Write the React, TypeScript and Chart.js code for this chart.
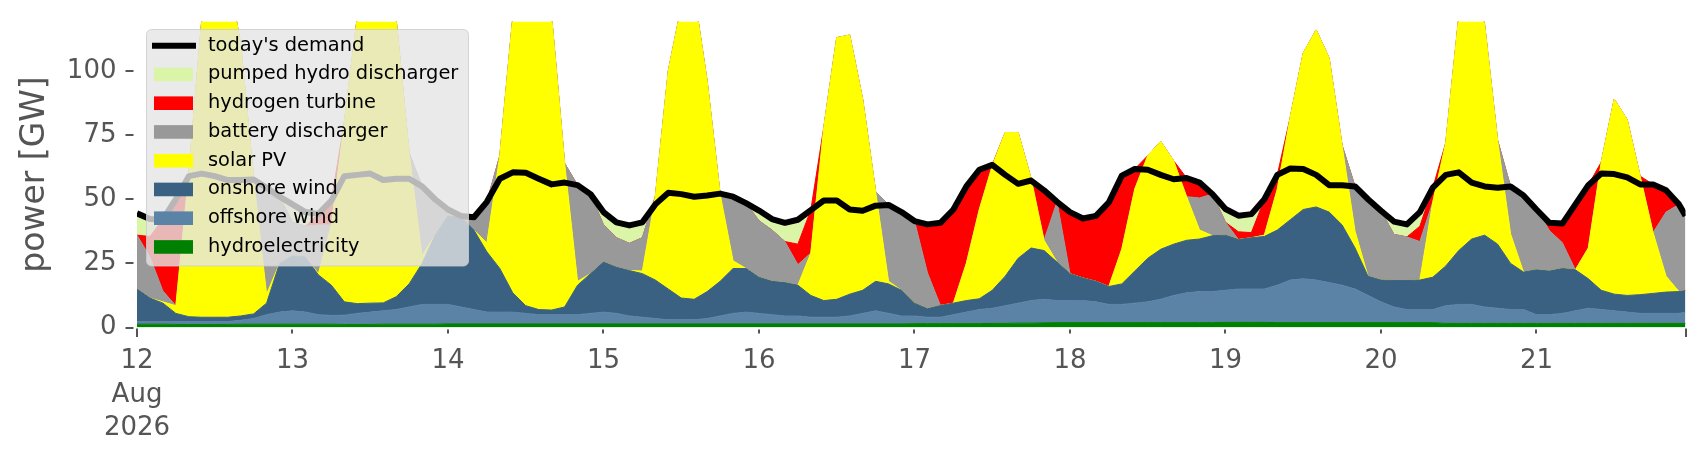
import { useEffect, useRef } from 'react';
import { Chart, registerables } from 'chart.js';

Chart.register(...registerables);

// time axis: hours since 12 Aug 2026 00:00, sampled every 2 h
const hours = [...Array.from({ length: 120 }, (_, i) => i * 2), 239];

const dayTicks = [0, 24, 48, 72, 96, 120, 144, 168, 192, 216];
const dayLabels: (string | string[])[] = [['12', 'Aug', '2026'], '13', '14', '15', '16', '17', '18', '19', '20', '21'];
const yTicks = [0, 25, 50, 75, 100];

// GW, one row per day
const demand = [
  44.5, 42.3, 42.2, 50, 59, 60, 59, 57.5, 57.5, 57.7, 54.5, 51,
  48, 45, 44.3, 49.5, 59, 59.5, 60, 57.5, 58, 58, 55, 50,
  46, 43.5, 43, 49, 58, 60.5, 60.3, 58, 55.8, 56.5, 55.5, 52,
  45, 41, 39.8, 41, 48, 52.5, 52, 51, 51.5, 52.2, 51, 48.5,
  45.6, 42.3, 40.8, 42, 45.8, 49.5, 49.5, 46, 45.5, 47.5, 47.8, 45,
  41.5, 40.2, 40.8, 46, 55, 61.5, 63.4, 59.5, 56, 57.3, 53.5, 49,
  45, 42.5, 43.5, 48.8, 59.2, 61.8, 61.5, 59.5, 57.8, 58.3, 56.5, 52,
  46.2, 43.6, 44.2, 50, 59.5, 62, 61.8, 59.5, 55.5, 55.5, 55, 50,
  45.5, 41.3, 40.2, 45, 54.5, 59.5, 60.5, 56.5, 55, 54.5, 55, 51.5,
  46, 40.8, 40.5, 48, 55.5, 60, 59.8, 58.5, 55.8, 55.8, 53.5, 48,
  43.6,
];

const hydro = [
  1.3, 1.3, 1.3, 1.2, 1.2, 1.2, 1.2, 1.2, 1.3, 1.3, 1.3, 1.3,
  1.3, 1.3, 1.3, 1.3, 1.2, 1.2, 1.2, 1.3, 1.3, 1.3, 1.3, 1.3,
  1.4, 1.4, 1.4, 1.4, 1.4, 1.4, 1.4, 1.4, 1.4, 1.4, 1.4, 1.4,
  1.4, 1.4, 1.4, 1.4, 1.4, 1.4, 1.4, 1.4, 1.4, 1.4, 1.4, 1.4,
  1.4, 1.4, 1.4, 1.4, 1.4, 1.4, 1.4, 1.4, 1.4, 1.4, 1.4, 1.4,
  1.5, 1.5, 1.5, 1.5, 1.5, 1.5, 1.6, 1.6, 1.7, 1.7, 1.8, 1.9,
  1.9, 1.9, 1.9, 1.9, 1.9, 1.9, 1.9, 1.9, 1.9, 1.9, 1.9, 1.9,
  2, 2, 2, 2, 1.9, 1.9, 1.9, 1.9, 1.9, 1.9, 1.9, 1.9,
  1.9, 1.9, 1.9, 1.9, 1.9, 1.6, 1.6, 1.6, 1.6, 1.6, 1.6, 1.6,
  1.6, 1.6, 1.6, 1.6, 1.6, 1.6, 1.6, 1.6, 1.6, 1.6, 1.6, 1.6,
  1.6,
];

const offshore = [
  0.9, 0.9, 0.9, 1, 1, 1, 1, 1.1, 1.5, 2.2, 3.7, 4.7,
  5.2, 4.7, 3.7, 3.4, 3.6, 4.3, 4.8, 5.2, 5.7, 6.7, 7.7, 7.7,
  7.6, 6.6, 5.6, 4.6, 4.6, 4.6, 4.1, 3.6, 3.6, 3.6, 3.6, 4.1,
  4.6, 4.1, 3.1, 2.6, 2.1, 1.6, 1.6, 1.6, 2.1, 3.1, 4.1, 4.6,
  4.1, 3.6, 3.1, 3.1, 2.6, 2.6, 2.6, 3.1, 4.1, 5.1, 4.1, 3.1,
  3, 2.5, 2.5, 3.5, 4.5, 5.5, 5.9, 6.9, 7.8, 8.8, 9.2, 8.6,
  8.6, 8.6, 8.1, 7.1, 7.1, 7.6, 8.1, 9.1, 10.6, 11.6, 12.1, 12.1,
  12.5, 13, 13, 13, 14.6, 16.6, 17.1, 16.6, 15.6, 14.6, 13.1, 10.6,
  8.1, 6.1, 5.1, 5.1, 5.1, 6.9, 7.4, 7.4, 6.4, 5.9, 5.4, 5.4,
  3.4, 3.4, 3.9, 4.9, 5.9, 5.4, 4.9, 4.4, 3.9, 3.9, 3.9, 3.9,
  4.4,
];

const onshore = [
  12.8, 9.3, 7.3, 3.3, 2, 1.8, 1.8, 1.7, 1.7, 1.8, 4.5, 19,
  21.5, 21.5, 15.5, 11.8, 5.2, 3.8, 3.5, 3.1, 5, 9, 16, 27,
  34.5, 35, 31, 23.5, 17, 7.5, 3, 2, 1.8, 3, 11.5, 15.5,
  19.5, 18, 17.7, 17, 15, 12, 8.5, 8, 10.5, 13.5, 17.5, 17,
  14.1, 13, 13, 12, 8.5, 6.5, 7, 8.5, 9, 11.5, 11.5, 10,
  5, 3.3, 4.6, 4.5, 4.5, 4.2, 7, 11.5, 17.5, 20.5, 19, 15,
  10.5, 8.8, 8, 7, 8, 12.5, 17, 19.5, 20, 20.5, 20.5, 21.8,
  21.5, 19.3, 20, 20.5, 21.5, 23.5, 27, 28.5, 27.5, 23.5, 16, 7.5,
  8.5, 10.3, 11.3, 11.5, 12.6, 15.5, 21, 25.5, 28, 25, 18, 14.6,
  17.5, 17, 17.5, 16, 11.5, 7.5, 6.5, 6.5, 7.3, 7.8, 8.3, 8.5,
  8.4,
];

const solar = [
  0, 0, 0.5, 3, 55.8, 116, 141, 136, 105.5, 52.7, 3.5, 0,
  0, 0, 0.5, 23.5, 70, 111.7, 130.5, 128.4, 108, 51, 3, 0,
  0, 0, 0, 3.5, 44, 107.5, 136.5, 138, 114.2, 56, 1.5, 0,
  0, 0, 0, 1, 32.5, 85, 113.5, 119, 82, 34, 3, 0,
  0, 0, 0, 0, 16.5, 67.5, 102, 101, 74.5, 35, 1, 0,
  0, 0, 0, 0, 14.5, 34.8, 48.5, 56, 49, 27, 4, 0,
  0, 0, 0, 0, 13.6, 32, 40, 42, 32.5, 17, 3.5, 0,
  0, 0, 0, 0.5, 16, 40, 61, 69, 60, 31, 6.5, 0,
  0, 0, 0, 0, 29.4, 48, 91, 103.5, 82, 40.5, 11.5, 0,
  0, 0, 0, 0, 12, 50, 76, 68.5, 46.2, 23.7, 6.2, 0,
  0,
];

const battery = [
  21, 16, 4.2, 0, 0, 0, 0, 0, 0, 0, 41.5, 26,
  13, 12, 19, 0, 0, 0, 0, 0, 0, 0, 27, 14,
  2.5, 0.5, 5, 16, 0, 0, 0, 0, 0, 0, 37.5, 31,
  14.5, 11.5, 10.6, 13, 0, 0, 0, 0, 0, 0, 25, 25.5,
  22, 20, 16, 8, 0, 0, 0, 0, 0, 0, 29.8, 30.5,
  32, 14, 0, 0, 0, 0, 0, 0, 0, 0, 0, 23.5,
  0, 0, 0, 0, 0, 0, 0, 0, 0, 0, 12.5, 16.2,
  5, 0, 0, 0, 0, 0, 0, 0, 0, 0, 17.5, 30,
  27, 18, 17, 15, 0, 0, 0, 0, 0, 0, 18.5, 29.9,
  23.5, 15.8, 10, 0, 0, 0, 0, 0, 0, 0, 25, 34,
  29.2,
];

const hydrogen = [
  0, 8, 28, 41.5, 0, 0, 0, 0, 0, 0, 0, 0,
  0, 0, 4.3, 9.5, 0, 0, 0, 0, 0, 0, 0, 0,
  0, 0, 0, 0, 0, 0, 0, 0, 0, 0, 0, 0,
  0, 0, 0, 0, 0, 0, 0, 0, 0, 0, 0, 0,
  0, 0, 0, 8, 16.8, 0, 0, 0, 0, 0, 0, 0,
  0, 18.9, 32.2, 36.5, 30, 15.5, 0.4, 0, 0, 0, 19.5, 0,
  24, 23.2, 25.5, 32.8, 28.6, 7.8, 0, 0, 0, 7.3, 6, 0,
  0, 3, 2, 14, 5.5, 0, 0, 0, 0, 0, 0, 0,
  0, 0, 0, 6, 5.5, 0, 0, 0, 0, 0, 0, 0,
  0, 3, 7.5, 25.5, 24.5, 0, 0, 0, 0, 18.8, 8.5, 0,
  0,
];

const pumpedHydro = [
  8.5, 6.8, 0, 0, 0, 0, 0, 0, 0, 0, 0, 0,
  7, 5.5, 0, 0, 0, 0, 0, 0, 0, 0, 0, 0,
  0, 0, 0, 0, 0, 0, 0, 0, 0, 0, 0, 0,
  5, 6, 7, 6, 0, 0, 0, 0, 0, 0, 0, 0,
  4, 4.3, 7.3, 9.5, 0, 0, 0, 0, 0, 0, 0, 0,
  0, 0, 0, 0, 0, 0, 0, 0, 0, 0, 0, 0,
  0, 0, 0, 0, 0, 0, 0, 0, 0, 0, 0, 0,
  5.2, 6.3, 7.2, 0, 0, 0, 0, 0, 0, 0, 0, 0,
  0, 5, 4.9, 5.5, 0, 0, 0, 0, 0, 0, 0, 0,
  0, 0, 0, 0, 0, 0, 0, 0, 0, 0, 0, 0,
  0,
];

const FONT = 'DejaVu Sans';
const TEXT_GREY = '#555555';

// stack order, bottom to top
const areas = [
  { label: 'hydroelectricity', data: hydro, color: '#008000' },
  { label: 'offshore wind', data: offshore, color: '#5B83A6' },
  { label: 'onshore wind', data: onshore, color: '#3B6182' },
  { label: 'solar PV', data: solar, color: '#FFFF00' },
  { label: 'battery discharger', data: battery, color: '#999999' },
  { label: 'hydrogen turbine', data: hydrogen, color: '#FF0000' },
  { label: 'pumped hydro discharger', data: pumpedHydro, color: '#DAF5A8' },
];

// matplotlib-like outward tick marks with a small gap from the axes
const tickMarks = {
  id: 'tickMarks',
  afterDraw(chart: any) {
    const { ctx, chartArea, scales } = chart;
    ctx.save();
    ctx.strokeStyle = TEXT_GREY;
    ctx.lineWidth = 2;
    ctx.beginPath();
    yTicks.forEach(v => {
      const y = Math.round(scales.y.getPixelForValue(v));
      ctx.moveTo(chartArea.left - 11.5, y);
      ctx.lineTo(chartArea.left - 3.5, y);
    });
    [...dayTicks, 239].forEach(v => {
      const x = Math.round(scales.x.getPixelForValue(v));
      const long = v === 0 || v === 239;
      ctx.moveTo(x, chartArea.bottom + (long ? 1 : 2));
      ctx.lineTo(x, chartArea.bottom + (long ? 9.5 : 6));
    });
    ctx.stroke();
    ctx.restore();
  },
};

// translucent legend box drawn over the plot
const boxLegend = {
  id: 'boxLegend',
  afterDatasetsDraw(chart: any) {
    const { ctx, chartArea } = chart;
    const x = chartArea.left + 9.5;
    const y = chartArea.top + 8;
    const w = 322;
    const h = 236.5;
    const r = 5;
    ctx.save();
    ctx.beginPath();
    ctx.moveTo(x + r, y);
    ctx.lineTo(x + w - r, y);
    ctx.arcTo(x + w, y, x + w, y + r, r);
    ctx.lineTo(x + w, y + h - r);
    ctx.arcTo(x + w, y + h, x + w - r, y + h, r);
    ctx.lineTo(x + r, y + h);
    ctx.arcTo(x, y + h, x, y + h - r, r);
    ctx.lineTo(x, y + r);
    ctx.arcTo(x, y, x + r, y, r);
    ctx.closePath();
    ctx.fillStyle = 'rgba(229,229,229,0.8)';
    ctx.fill();
    ctx.strokeStyle = 'rgba(204,204,204,0.8)';
    ctx.lineWidth = 1;
    ctx.stroke();

    const items = [
      { label: "today's demand", color: '#000000', line: true },
      ...[...areas].reverse().map(a => ({ label: a.label, color: a.color, line: false })),
    ];
    ctx.font = `19.4px "${FONT}"`;
    ctx.textBaseline = 'middle';
    ctx.textAlign = 'left';
    items.forEach((it, i) => {
      const cy = y + 16.2 + i * 28.75;
      if (it.line) {
        ctx.strokeStyle = it.color;
        ctx.lineWidth = 6;
        ctx.beginPath();
        ctx.moveTo(x + 5.5, cy);
        ctx.lineTo(x + 49.5, cy);
        ctx.stroke();
      } else {
        ctx.fillStyle = it.color;
        ctx.fillRect(x + 7.5, cy - 6.8, 39, 13.6);
      }
      ctx.fillStyle = '#000000';
      ctx.fillText(it.label, x + 61.5, cy);
    });
    ctx.restore();
  },
};

export default function App() {
  const canvasRef = useRef<HTMLCanvasElement | null>(null);
  const chartRef = useRef<Chart | null>(null);

  useEffect(() => {
    if (!canvasRef.current) return;
    if (chartRef.current) chartRef.current.destroy();

    chartRef.current = new Chart(canvasRef.current, {
      type: 'line',
      data: {
        labels: hours,
        datasets: [
          {
            label: "today's demand",
            data: demand,
            stack: 'demand',
            borderColor: '#000000',
            borderWidth: 6,
            borderJoinStyle: 'round',
            pointRadius: 0,
            fill: false,
            tension: 0,
          },
          ...areas.map((a, i) => ({
            label: a.label,
            data: a.data,
            backgroundColor: a.color,
            borderColor: a.color,
            borderWidth: 1,
            pointRadius: 0,
            tension: 0,
            fill: i === 0 ? 'origin' : '-1',
          })),
        ],
      },
      options: {
        responsive: false,
        animation: false,
        events: [],
        layout: { padding: { top: 21.5, right: 20.5, left: 0, bottom: 0 } },
        plugins: {
          legend: { display: false },
          tooltip: { enabled: false },
        },
        scales: {
          x: {
            type: 'linear',
            min: 0,
            max: 239,
            grid: { display: false, drawTicks: false },
            border: { display: false },
            ticks: {
              stepSize: 24,
              includeBounds: false,
              autoSkip: false,
              maxRotation: 0,
              padding: 17.5,
              color: TEXT_GREY,
              font: { family: FONT, size: 26, lineHeight: 1.28 },
              callback: (v: any) => {
                const i = dayTicks.indexOf(Number(v));
                return i >= 0 ? dayLabels[i] : '';
              },
            },
            afterFit: (s: any) => {
              s.height = 132.5;
              s.paddingLeft = 0;
              s.paddingRight = 0;
            },
          },
          y: {
            stacked: true,
            min: 0,
            max: 119.3,
            grid: { display: false, drawTicks: false },
            border: { display: false },
            ticks: {
              stepSize: 25,
              includeBounds: false,
              padding: 20.5,
              color: TEXT_GREY,
              font: { family: FONT, size: 26 },
            },
            title: {
              display: true,
              text: 'power [GW]',
              color: TEXT_GREY,
              font: { family: FONT, size: 33 },
              padding: { top: 15.5, bottom: 0 },
            },
            afterFit: (s: any) => {
              s.width = 137;
              s.paddingTop = 0;
              s.paddingBottom = 0;
            },
          },
        },
      },
      plugins: [tickMarks, boxLegend],
    } as any);

    return () => {
      if (chartRef.current) {
        chartRef.current.destroy();
        chartRef.current = null;
      }
    };
  }, []);

  return (
    <div style={{ position: 'absolute', left: 0, top: 0, width: 1706, height: 460, background: '#ffffff' }}>
      <canvas ref={canvasRef} width={1706} height={460} />
    </div>
  );
}
